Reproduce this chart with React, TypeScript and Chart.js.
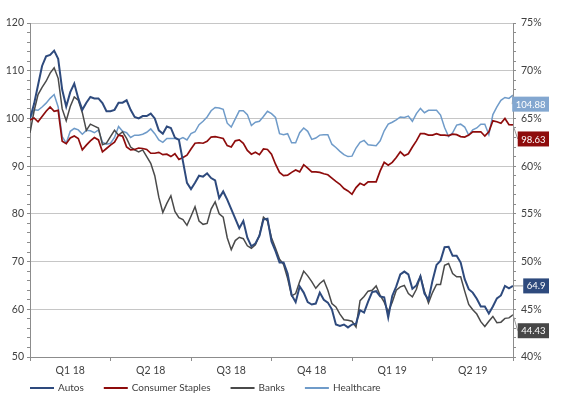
import React, { useEffect, useRef } from 'react';
import { Chart, registerables } from 'chart.js';

Chart.register(...registerables);

// Quarter labels (each quarter spans 20 sample points)
const quarterLabels = ['Q1 18', 'Q2 18', 'Q3 18', 'Q4 18', 'Q1 19', 'Q2 19'];
const pointsPerQuarter = 20;

// Left axis (index) series
const autos = [
  100, 103, 107, 111, 113, 113.3, 114.2, 112.5, 106, 102.5,
  105.5, 107.3, 104.2, 101.8, 103.3, 104.5, 104.2, 104.2, 103.2, 101.5,
  101.5, 101.8, 103.3, 103.3, 103.8, 101.8, 100.3, 100, 100.5, 100.5,
  101, 100, 97.5, 96.8, 98.3, 98, 96, 95.5, 91, 86.5,
  85.2, 86.5, 88, 87.8, 88.5, 87.5, 87, 83.3, 84.7, 83,
  81, 79, 77, 78.5, 75, 73.2, 73.8, 75.4, 78.8, 79,
  74.2, 72.2, 69.8, 69.8, 67.5, 63, 61.5, 64.8, 63.5, 61.5,
  61, 61.2, 63.5, 62, 61.4, 60, 56.8, 56.5, 56.8, 56.2,
  56.8, 57, 59.8, 59.3, 61.6, 63.6, 63.8, 62.7, 62.5, 58.3,
  62.8, 64.8, 67.3, 67.9, 67.3, 64.3, 65, 66.9, 63.3, 62,
  66, 69.3, 70.2, 73, 73.1, 71.2, 71.2, 69.8, 66.3, 64.2,
  63.5, 62.2, 60.6, 60.6, 59.1, 60.6, 62.3, 62.9, 64.9, 64.4,
  64.9,
];

const staples = [
  99.7, 100.1, 99.3, 100.4, 101.5, 102.4, 101.5, 101.7, 95.2, 94.7,
  95.9, 96.3, 95.8, 93.4, 94.4, 95.3, 96, 95.5, 93, 93.7,
  94.4, 95, 96.5, 96.3, 94, 93.4, 93.5, 93.8, 93.7, 93.5,
  92.7, 92.7, 92.9, 92.4, 92.5, 92, 92.6, 91.4, 91.8, 92.3,
  93.6, 94.8, 94.9, 94.8, 95.2, 96.1, 96.2, 96, 95.8, 94.3,
  94, 95.3, 95.5, 94.8, 93.3, 92.5, 92.9, 92.4, 93.6, 93.5,
  92.5, 90.4, 88.7, 88, 88.1, 88.7, 89.2, 88.8, 90.3, 89.6,
  88.8, 88.8, 88.7, 88.4, 88.2, 87.5, 86.8, 86.2, 85.3, 84.8,
  84.1, 85.5, 86.4, 86, 86.7, 86.7, 86.7, 89, 90.8, 90.2,
  90.8, 91.8, 93, 92.2, 92.6, 94, 95.3, 96.8, 96.8, 96.5,
  96.5, 96.8, 96.5, 96.5, 96.4, 96.7, 96.6, 96.2, 96.1, 96.5,
  97.2, 97.2, 97.2, 96.3, 97.2, 99.5, 99.3, 99, 100, 98.7,
  98.63,
];

const healthcare = [
  100, 101.8, 101.7, 102.4, 103.2, 104.2, 105, 102.4, 96.2, 94.8,
  97.3, 97.9, 97.6, 96.7, 97.5, 97.4, 97, 97.6, 95, 94.6,
  94.8, 96, 98.3, 97.3, 97, 96, 96.5, 96.5, 96.7, 97.1,
  97.8, 96.8, 95.5, 95, 95.8, 95.8, 95.8, 95.6, 96, 95.5,
  96.8, 97.2, 98.7, 99.4, 100.3, 101.6, 102.3, 102.2, 101.9, 99,
  98.2, 99.9, 101.6, 101.6, 100.8, 98.5, 99.2, 99.4, 100.4, 101.5,
  101, 100.2, 96.8, 96.6, 96.8, 94.9, 94.9, 97, 98, 97.3,
  95.6, 95.9, 96.5, 96.6, 96.6, 94.6, 93.9, 93.1, 92.4, 92,
  92.1, 93.8, 95, 95.4, 94.5, 94.4, 94.3, 95.3, 97.4, 98.8,
  99.2, 99.7, 100.3, 100.2, 100.5, 99.4, 101, 102.1, 101.2, 101.7,
  101.7, 101.7, 100.7, 98.1, 96.2, 97, 98.6, 98.8, 98.2, 96.5,
  97.6, 98, 98.8, 98.8, 96.6, 100.8, 102.4, 103.8, 104.4, 104.2,
  104.88,
];

// Right axis (%) series
const banks = [
  63.5, 65.75, 67.5, 68.25, 68.9, 69.75, 70.3, 69.2, 66, 64.75,
  66.25, 67.25, 66.9, 65.6, 63.75, 64.4, 64.2, 64, 62.25, 62.4,
  63.1, 63.75, 63.25, 63.6, 62.9, 62, 61.7, 61.5, 61.7, 61,
  60.3, 59, 56.75, 55.15, 56.1, 56.9, 55.25, 54.6, 54.4, 53.8,
  54.75, 55.75, 54.25, 53.9, 54, 55.5, 56.25, 55, 54.65, 52.5,
  51.25, 52.2, 52.55, 52.4, 51.65, 51.4, 51.75, 52.75, 54.65, 54.25,
  52.5, 51.4, 50.25, 49.7, 48.25, 46.4, 46.65, 47.9, 49, 48.5,
  47.9, 47.2, 47.7, 48.05, 47, 45.6, 45.25, 44.5, 43.9, 43.85,
  43.75, 43.15, 45.9, 46.35, 46.9, 47, 47.45, 46.45, 45.75, 44.75,
  45.75, 47, 47.35, 47.5, 46.65, 46.3, 47.1, 48.5, 46.9, 45.65,
  46.75, 47.6, 47.6, 49.6, 49.8, 48.75, 48.4, 48.4, 46.9, 45.5,
  44.95, 44.5, 43.7, 43.2, 43.75, 44.25, 43.6, 43.65, 44.05, 44.1,
  44.43,
];

const seriesNames = ['Autos', 'Consumer Staples', 'Banks', 'Healthcare'];
const seriesColors = ['#2E4A7D', '#8E0C0C', '#4A4A4A', '#6F9BC9'];
const boxColors = ['#2E4A7D', '#8E0C0C', '#474747', '#83A7D0'];
const boxOffsets = [0, 14, 16, 9];

const FONT = 'Lato, "Open Sans", sans-serif';
const TEXT = '#404040';
const AXIS = '#8C8C8C';
const GRID = '#C6C6C6';

const endLabelPlugin = {
  id: 'endLabels',
  afterDatasetsDraw(chart: any) {
    const ctx = chart.ctx;
    ctx.save();
    ctx.font = `9.5px ${FONT}`;
    chart.data.datasets.forEach((ds: any, i: number) => {
      const meta = chart.getDatasetMeta(i);
      const pts = meta.data;
      const last = pts[pts.length - 1];
      const val = ds.data[ds.data.length - 1].y;
      const text = String(val);
      const tw = ctx.measureText(text).width;
      const right = 549;
      const w = tw + 7;
      const h = 15;
      const left = right - w;
      const cy = last.y + boxOffsets[i];
      ctx.strokeStyle = '#9A9A9A';
      ctx.lineWidth = 1;
      ctx.beginPath();
      ctx.moveTo(last.x, last.y);
      ctx.lineTo(left, cy);
      ctx.stroke();
      ctx.fillStyle = boxColors[i];
      ctx.fillRect(left, cy - h / 2, w, h);
      ctx.fillStyle = '#FFFFFF';
      ctx.textAlign = 'center';
      ctx.textBaseline = 'middle';
      ctx.fillText(text, left + w / 2, cy + 0.5);
    });
    ctx.restore();
  },
  afterDraw(chart: any) {
    const ctx = chart.ctx;
    ctx.save();
    ctx.font = `10px ${FONT}`;
    ctx.textBaseline = 'middle';
    ctx.textAlign = 'left';
    let x = 30;
    const y = 388;
    seriesNames.forEach((name, i) => {
      ctx.strokeStyle = seriesColors[i];
      ctx.lineWidth = 2;
      ctx.beginPath();
      ctx.moveTo(x, y);
      ctx.lineTo(x + 24, y);
      ctx.stroke();
      ctx.fillStyle = TEXT;
      ctx.fillText(name, x + 28, y);
      x += 28 + ctx.measureText(name).width + 20;
    });
    ctx.restore();
  },
};

export default function App() {
  const ref = useRef<HTMLCanvasElement | null>(null);

  useEffect(() => {
    if (!ref.current) return;
    const toXY = (arr: number[]) => arr.map((v, i) => ({ x: i, y: v }));
    const chart = new Chart(ref.current, {
      type: 'line',
      data: {
        datasets: [
          { label: seriesNames[0], data: toXY(autos), yAxisID: 'y', borderColor: seriesColors[0], borderWidth: 2, pointRadius: 0, tension: 0 },
          { label: seriesNames[1], data: toXY(staples), yAxisID: 'y', borderColor: seriesColors[1], borderWidth: 1.7, pointRadius: 0, tension: 0 },
          { label: seriesNames[2], data: toXY(banks), yAxisID: 'y1', borderColor: seriesColors[2], borderWidth: 1.5, pointRadius: 0, tension: 0 },
          { label: seriesNames[3], data: toXY(healthcare), yAxisID: 'y', borderColor: seriesColors[3], borderWidth: 1.5, pointRadius: 0, tension: 0 },
        ],
      },
      options: {
        responsive: false,
        animation: false,
        events: [],
        layout: { padding: { top: 23, bottom: 0, left: 0, right: 0 } },
        plugins: { legend: { display: false }, tooltip: { enabled: false } },
        scales: {
          x: {
            type: 'linear',
            min: 0,
            max: quarterLabels.length * pointsPerQuarter,
            afterFit: (s: any) => { s.height = 38; },
            border: { color: AXIS, width: 1 },
            grid: {
              drawOnChartArea: false,
              tickLength: 4,
              tickColor: (c: any) => (c.tick && c.tick.value % pointsPerQuarter === 0 ? AXIS : 'rgba(0,0,0,0)'),
            },
            ticks: {
              stepSize: pointsPerQuarter / 2,
              autoSkip: false,
              maxRotation: 0,
              padding: 3,
              color: TEXT,
              font: { family: FONT, size: 10.5 },
              callback: (v: any) => {
                const n = Number(v);
                if (n % pointsPerQuarter === pointsPerQuarter / 2) return quarterLabels[(n - pointsPerQuarter / 2) / pointsPerQuarter];
                return '';
              },
            },
          },
          y: {
            position: 'left',
            min: 50,
            max: 120,
            afterFit: (s: any) => { s.width = 30; },
            border: { color: AXIS, width: 1 },
            grid: {
              color: (c: any) => (c.tick && c.tick.value % 10 === 0 ? GRID : 'rgba(0,0,0,0)'),
              lineWidth: 1,
              tickLength: 3,
              tickColor: AXIS,
            },
            ticks: {
              stepSize: 2,
              autoSkip: false,
              padding: 3,
              color: TEXT,
              font: { family: FONT, size: 10.5 },
              callback: (v: any) => (Number(v) % 10 === 0 ? String(v) : ''),
            },
          },
          y1: {
            position: 'right',
            min: 40,
            max: 75,
            afterFit: (s: any) => { s.width = 63; },
            border: { color: AXIS, width: 1 },
            grid: { drawOnChartArea: false, tickLength: 3, tickColor: AXIS },
            ticks: {
              stepSize: 1,
              autoSkip: false,
              padding: 5,
              color: TEXT,
              font: { family: FONT, size: 10.5 },
              callback: (v: any) => (Number(v) % 5 === 0 ? `${v}%` : ''),
            },
          },
        },
      },
      plugins: [endLabelPlugin],
    });
    return () => chart.destroy();
  }, []);

  return (
    <div style={{ position: 'fixed', left: 0, top: 0, width: 576, height: 395, background: '#fff' }}>
      <canvas ref={ref} width={576} height={395} />
    </div>
  );
}
